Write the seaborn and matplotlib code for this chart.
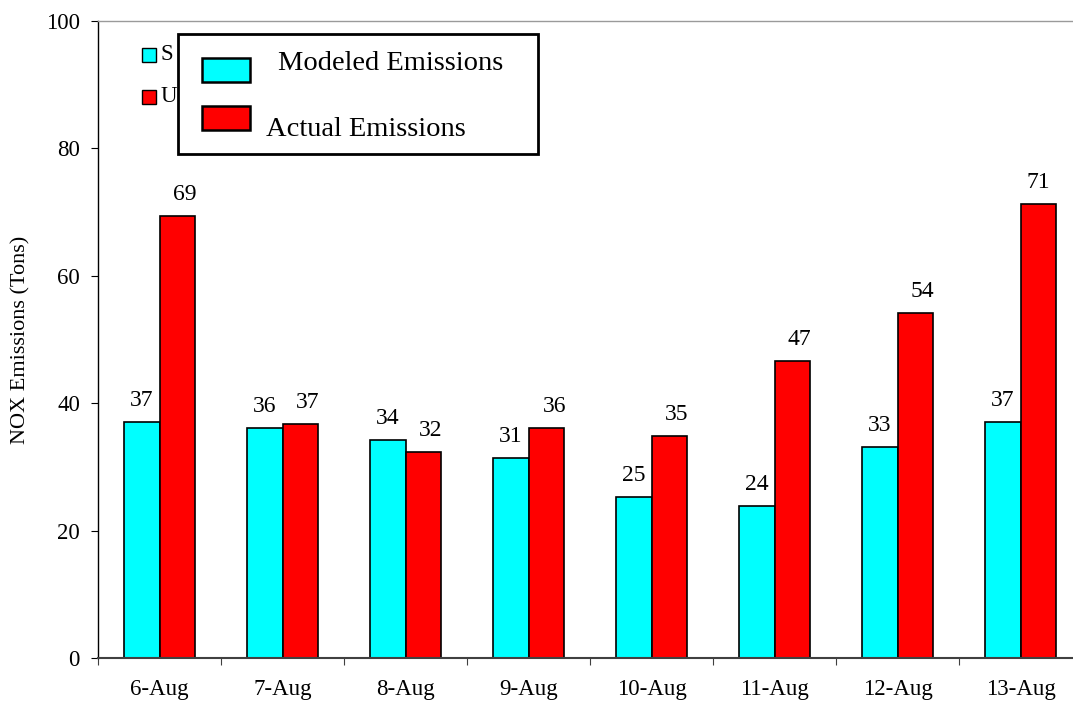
import numpy as np
import pandas as pd
import matplotlib
matplotlib.use("Agg")
import matplotlib.pyplot as plt
from matplotlib.patches import Rectangle
import seaborn as sns

# ---- data ----
dates = ["6-Aug", "7-Aug", "8-Aug", "9-Aug", "10-Aug", "11-Aug", "12-Aug", "13-Aug"]
modeled = [37.0, 36.15, 34.2, 31.4, 25.3, 23.9, 33.2, 37.0]
actual = [69.4, 36.7, 32.4, 36.1, 34.85, 46.6, 54.2, 71.3]
series_names = ["Modeled Emissions", "Actual Emissions"]
hidden_legend_labels = ["S", "U"]
y_ticks = [0, 20, 40, 60, 80, 100]
y_label = "NOX Emissions (Tons)"

# ---- style ----
CYAN = "#00FFFF"
RED = "#FF0000"
W, H, DPI = 1073, 704, 100
red_label_dx_px = [8, 8, 8, 9, 8, 7, 7, 0]

sns.set_theme(style="white")
plt.rcParams["font.family"] = ["Liberation Serif", "DejaVu Serif"]
plt.rcParams["text.color"] = "black"
plt.rcParams["axes.labelcolor"] = "black"
plt.rcParams["xtick.color"] = "black"
plt.rcParams["ytick.color"] = "black"

df = pd.DataFrame({
    "date": dates * 2,
    "value": modeled + actual,
    "series": [series_names[0]] * len(dates) + [series_names[1]] * len(dates),
})

fig = plt.figure(figsize=(W / DPI, H / DPI), dpi=DPI)
fx = lambda px: px / W
fy = lambda py: 1 - py / H

ax_left, ax_right, ax_top, ax_bottom = 98, 1082, 21, 658
ax = fig.add_axes([fx(ax_left), fy(ax_bottom), fx(ax_right - ax_left), (ax_bottom - ax_top) / H])

sns.barplot(data=df, x="date", y="value", hue="series", order=dates,
            hue_order=series_names, palette=[CYAN, RED], width=0.57,
            edgecolor="black", linewidth=1.2, saturation=1, legend=False, ax=ax)

ax.set_xlim(-0.5, len(dates) - 0.5)
ax.set_ylim(0, 100)
ax.set_yticks(y_ticks)
ax.set_xlabel("")
ax.set_ylabel(y_label, fontsize=16, color="black")
ax.yaxis.set_label_coords((30 - ax_left) / (ax_right - ax_left), 0.5)

# spines
ax.spines["left"].set_color("black")
ax.spines["left"].set_linewidth(1.0)
ax.spines["bottom"].set_color("#404040")
ax.spines["bottom"].set_linewidth(1.5)
ax.spines["top"].set_color("#9a9a9a")
ax.spines["top"].set_linewidth(1.0)
ax.spines["right"].set_visible(False)

# ticks
ax.tick_params(axis="y", which="major", direction="out", length=5, width=0.8,
               color="black", labelsize=16.5, pad=8, left=True, labelcolor="black")
ax.set_xticks(np.arange(len(dates)))
ax.set_xticklabels(dates)
ax.set_xticks(np.arange(len(dates) + 1) - 0.5, minor=True)
ax.tick_params(axis="x", which="major", length=0, labelsize=16.5, pad=15, labelcolor="black")
ax.tick_params(axis="x", which="minor", direction="out", length=5, width=0.8,
               color="#404040", bottom=True)

# value labels
for ci, cont in enumerate(ax.containers):
    for bi, bar in enumerate(cont):
        h = bar.get_height()
        xc = bar.get_x() + bar.get_width() / 2
        dx = 0 if ci == 0 else red_label_dx_px[bi] * 72 / DPI
        ax.annotate(f"{h:.0f}", (xc, h), xytext=(dx, 11.5), textcoords="offset points",
                    ha="center", va="baseline", fontsize=17, color="black")

# hidden (original) legend underneath
for i, (col, txt) in enumerate(zip([CYAN, RED], hidden_legend_labels)):
    top = 48 + i * 42
    fig.add_artist(Rectangle((fx(142), fy(top + 14)), fx(14), 14 / H,
                             transform=fig.transFigure, facecolor=col,
                             edgecolor="black", linewidth=1.0, zorder=2))
    fig.text(fx(161), fy(top + 7), txt, ha="left", va="center", fontsize=16.5,
             color="black", zorder=2)

# overlay legend box
fig.add_artist(Rectangle((fx(178), fy(154)), fx(538 - 178), (154 - 34) / H,
                         transform=fig.transFigure, facecolor="white",
                         edgecolor="black", linewidth=2.0, zorder=5))
patch_y = [58, 106]
text_pos = [(278, 63), (266, 130)]
for col, py, name, (tx, ty) in zip([CYAN, RED], patch_y, series_names, text_pos):
    fig.add_artist(Rectangle((fx(202), fy(py + 24)), fx(48), 24 / H,
                             transform=fig.transFigure, facecolor=col,
                             edgecolor="black", linewidth=1.8, zorder=6))
    fig.text(fx(tx), fy(ty), name, ha="left", va="center", fontsize=20.5,
             color="black", zorder=7)

fig.savefig("out.png", dpi=DPI)
